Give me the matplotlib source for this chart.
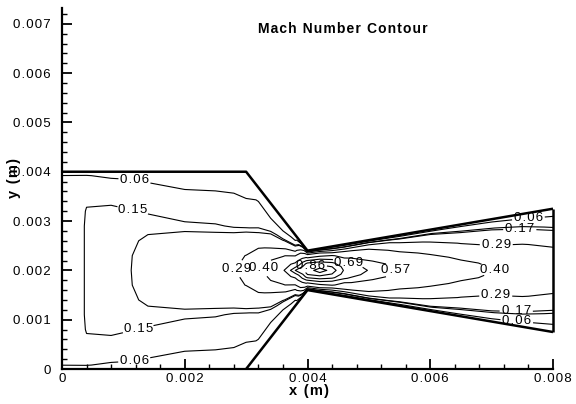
import numpy as np
import matplotlib

matplotlib.use("Agg")
import matplotlib.pyplot as plt  # noqa: E402
from matplotlib.ticker import FuncFormatter, MultipleLocator  # noqa: E402

plt.rcParams.update(
    {
        "font.family": ["Liberation Sans", "DejaVu Sans"],
        "font.size": 9.5,
        "axes.linewidth": 1.6,
        "xtick.major.width": 1.3,
        "ytick.major.width": 1.3,
        "xtick.minor.width": 1.0,
        "ytick.minor.width": 1.0,
    }
)

HAIR = "\u200a"


def spaced(s):
    # loose letter spacing, the way the solver's plotting tool sets its text
    return HAIR.join(s)


# nozzle walls (m)
upper_wall_x = [0.0, 0.003, 0.004, 0.008]
upper_wall_y = [0.004, 0.004, 0.0024, 0.00325]
lower_wall_x = [0.003, 0.004, 0.008]
lower_wall_y = [0.0, 0.0016, 0.00075]
outlet_x = [0.008, 0.008]
outlet_y = [0.00325, 0.00075]
centre_y = 0.002

# solution stations along the axis, and position across the channel as a
# fraction of the local half-height (0 = axis, 1 = wall)
stations_x = [0.0, 0.0004, 0.0008, 0.0011, 0.0014, 0.002, 0.0025, 0.0028,
              0.003, 0.0032, 0.0034, 0.0036, 0.0038, 0.004, 0.0042, 0.0044,
              0.0046, 0.005, 0.0055, 0.006, 0.0065, 0.007, 0.0075, 0.008]
eta = [0.0, 0.15, 0.3, 0.45, 0.6, 0.72, 0.82, 0.9, 0.96, 1.0]

# Mach number on the upper half of the channel, one row per station
mach_half = [
    [0.130, 0.130, 0.130, 0.130, 0.130, 0.125, 0.115, 0.100, 0.062, 0.0],
    [0.152, 0.152, 0.152, 0.152, 0.151, 0.148, 0.135, 0.110, 0.065, 0.0],
    [0.160, 0.160, 0.160, 0.160, 0.155, 0.145, 0.120, 0.085, 0.040, 0.0],
    [0.168, 0.167, 0.165, 0.162, 0.152, 0.138, 0.115, 0.075, 0.035, 0.0],
    [0.190, 0.187, 0.175, 0.163, 0.147, 0.125, 0.095, 0.055, 0.025, 0.0],
    [0.210, 0.207, 0.190, 0.158, 0.130, 0.105, 0.060, 0.035, 0.015, 0.0],
    [0.250, 0.243, 0.190, 0.155, 0.120, 0.090, 0.055, 0.030, 0.012, 0.0],
    [0.285, 0.270, 0.200, 0.145, 0.105, 0.080, 0.048, 0.025, 0.010, 0.0],
    [0.330, 0.292, 0.210, 0.142, 0.110, 0.062, 0.040, 0.025, 0.010, 0.0],
    [0.380, 0.360, 0.270, 0.172, 0.120, 0.090, 0.065, 0.030, 0.012, 0.0],
    [0.460, 0.400, 0.310, 0.220, 0.140, 0.080, 0.045, 0.025, 0.010, 0.0],
    [0.550, 0.480, 0.380, 0.270, 0.160, 0.080, 0.040, 0.020, 0.008, 0.0],
    [0.780, 0.620, 0.500, 0.360, 0.240, 0.140, 0.070, 0.035, 0.012, 0.0],
    [0.900, 0.880, 0.830, 0.730, 0.610, 0.480, 0.380, 0.250, 0.110, 0.0],
    [0.940, 0.910, 0.835, 0.740, 0.620, 0.490, 0.370, 0.230, 0.100, 0.0],
    [0.905, 0.860, 0.800, 0.692, 0.600, 0.420, 0.300, 0.172, 0.080, 0.0],
    [0.770, 0.750, 0.705, 0.590, 0.470, 0.405, 0.290, 0.160, 0.065, 0.0],
    [0.685, 0.660, 0.580, 0.520, 0.450, 0.390, 0.330, 0.210, 0.080, 0.0],
    [0.555, 0.540, 0.500, 0.430, 0.370, 0.320, 0.270, 0.148, 0.058, 0.0],
    [0.490, 0.475, 0.430, 0.380, 0.330, 0.280, 0.230, 0.152, 0.062, 0.0],
    [0.440, 0.420, 0.380, 0.330, 0.285, 0.220, 0.172, 0.120, 0.055, 0.0],
    [0.405, 0.385, 0.350, 0.300, 0.260, 0.215, 0.152, 0.090, 0.050, 0.0],
    [0.370, 0.360, 0.330, 0.295, 0.240, 0.175, 0.130, 0.068, 0.035, 0.0],
    [0.350, 0.340, 0.310, 0.270, 0.190, 0.140, 0.095, 0.045, 0.020, 0.0],
]

levels = [0.06, 0.15, 0.17, 0.29, 0.40, 0.57, 0.69, 0.78, 0.86, 0.92]

# where each labelled level carries its value
label_spots = {
    0.06: [(0.00116, 0.00377), (0.00116, 0.00022), (0.00759, 0.00310), (0.00741, 0.00097)],
    0.15: [(0.00116, 0.00323), (0.00124, 0.00081)],
    0.17: [(0.00746, 0.00282), (0.00741, 0.00130)],
    0.29: [(0.00277, 0.00205), (0.00707, 0.00256), (0.00707, 0.00152)],
    0.40: [(0.00329, 0.00204), (0.00705, 0.00201)],
    0.57: [(0.00556, 0.00203)],
    0.69: [(0.00468, 0.00217)],
    0.86: [(0.00406, 0.00207)],
}

# mirror the half channel about the axis and map onto the nozzle shape
eta = np.asarray(eta)
half = np.asarray(mach_half)
eta_full = np.concatenate([-eta[::-1], eta[1:]])
mach = np.concatenate([half[:, ::-1], half[:, 1:]], axis=1)
sx = np.asarray(stations_x)
half_h = np.interp(sx, upper_wall_x, upper_wall_y) - centre_y
X = np.repeat(sx[:, None], eta_full.size, axis=1)
Y = centre_y + eta_full[None, :] * half_h[:, None]

fig = plt.figure(figsize=(5.76, 4.04), dpi=100)
ax = fig.add_axes([62 / 576, 1 - 369 / 404, 491 / 576, 361 / 404])

# one contour set per level so each can be labelled on its own
for lv in levels:
    cs = ax.contour(X, Y, mach, levels=[lv], colors="k", linewidths=0.8)
    if lv in label_spots:
        ax.clabel(cs, fmt={lv: spaced(f"{lv:.2f}")}, fontsize=9.5,
                  inline=True, inline_spacing=2, manual=label_spots[lv])
        for t in cs.labelTexts:
            t.set_rotation(0)

wall = dict(color="k", lw=1.8, clip_on=False, solid_capstyle="butt")
ax.plot(upper_wall_x, upper_wall_y, **wall)
ax.plot(lower_wall_x, lower_wall_y, **wall)
ax.plot(outlet_x, outlet_y, **wall)

ax.set_xlim(0, 0.008)
ax.set_ylim(0, 0.00732)
ax.spines["top"].set_visible(False)
ax.spines["right"].set_visible(False)

ax.xaxis.set_major_locator(MultipleLocator(0.002))
ax.xaxis.set_minor_locator(MultipleLocator(0.0004))
ax.yaxis.set_major_locator(MultipleLocator(0.001))
ax.yaxis.set_minor_locator(MultipleLocator(0.0002))
tick_fmt = FuncFormatter(lambda v, _: "0" if abs(v) < 1e-9 else spaced(f"{v:.3f}"))
ax.xaxis.set_major_formatter(tick_fmt)
ax.yaxis.set_major_formatter(tick_fmt)
ax.tick_params(which="both", direction="in", top=False, right=False)
ax.tick_params(which="major", length=7)
ax.tick_params(which="minor", length=3.5)
ax.tick_params(axis="x", pad=3)
ax.tick_params(axis="y", pad=8)

fig.text(309 / 576, 1 - 391 / 404, spaced("x (m)"), ha="center", va="center",
         fontsize=10.5, fontweight="bold")
fig.text(14 / 576, 1 - 178 / 404, spaced("y (m)"), ha="center", va="center",
         rotation=90, fontsize=10.5, fontweight="bold")
fig.text(343 / 576, 1 - 29 / 404, spaced("Mach Number Contour"), ha="center",
         va="center", fontsize=10, fontweight="bold")

fig.savefig("out.png", dpi=100)
